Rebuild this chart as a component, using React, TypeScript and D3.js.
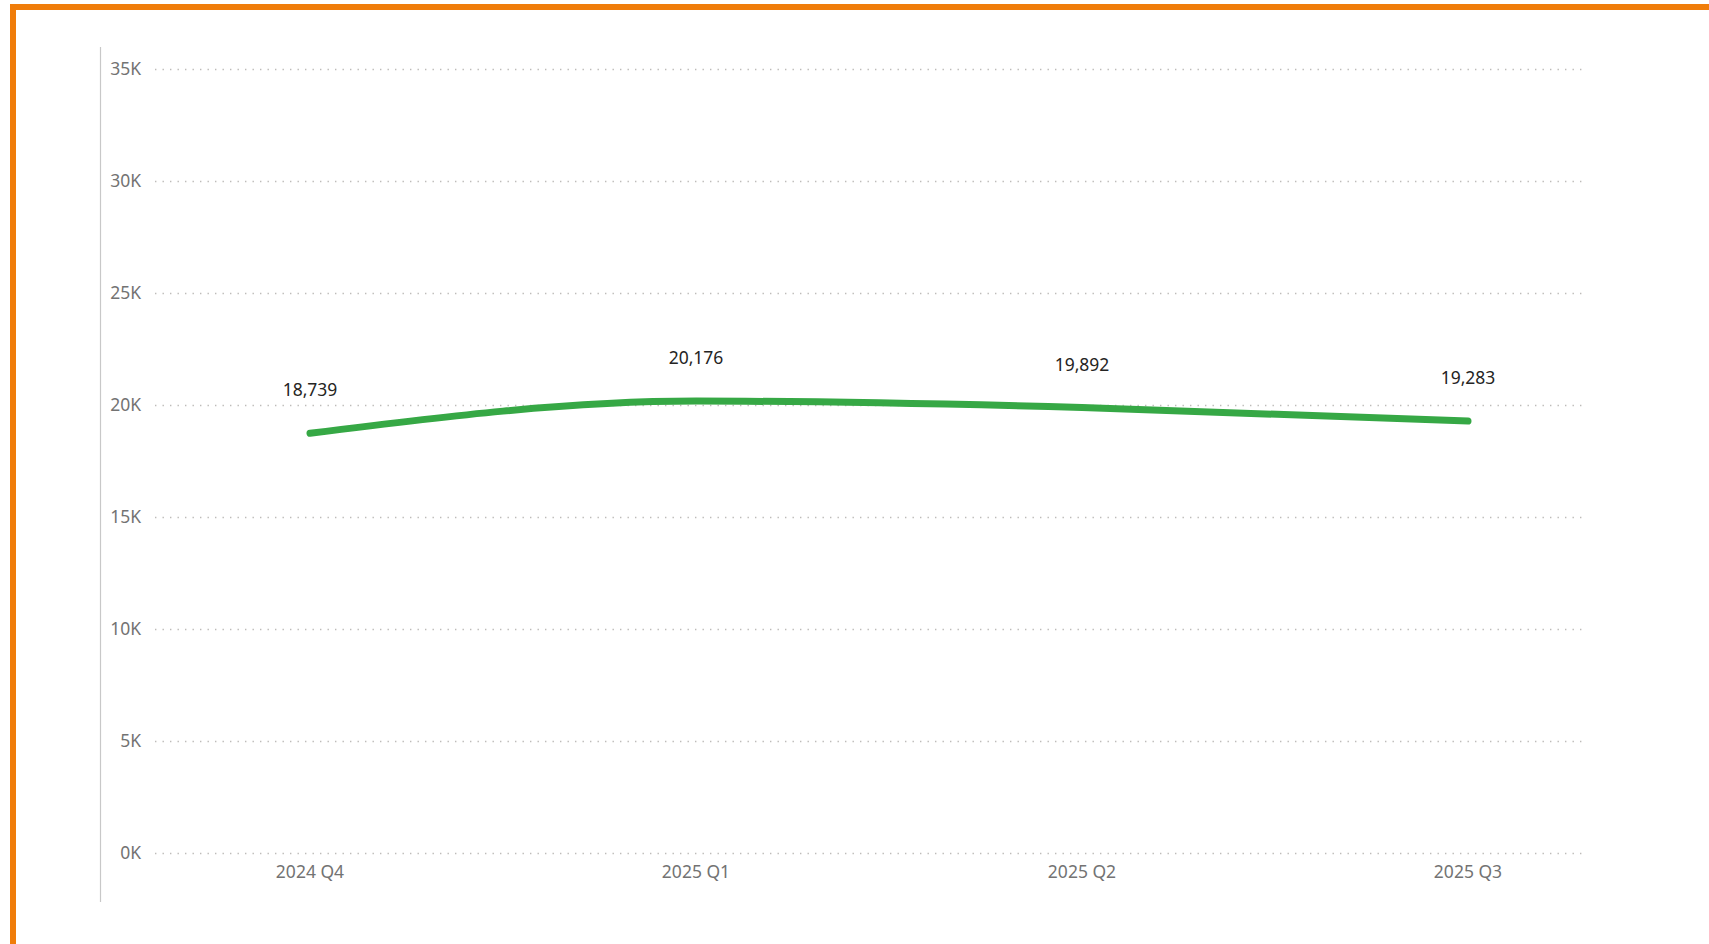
import { useEffect, useRef } from "react";
import * as d3 from "d3";

const quarters = ["2024 Q4", "2025 Q1", "2025 Q2", "2025 Q3"];
const values = [18739, 20176, 19892, 19283];
const yTicks = [0, 5000, 10000, 15000, 20000, 25000, 30000, 35000];

export default function App() {
  const ref = useRef<HTMLDivElement>(null);

  useEffect(() => {
    const width = 1709;
    const height = 944;
    const font = "'Noto Sans', 'Open Sans', sans-serif";

    const svg = d3
      .select(ref.current)
      .append("svg")
      .attr("width", width)
      .attr("height", height)
      .style("position", "absolute")
      .style("left", "0px")
      .style("top", "0px")
      .style("background", "#fff");

    // orange frame
    svg
      .append("rect")
      .attr("x", 13)
      .attr("y", 7)
      .attr("width", width + 20)
      .attr("height", height + 20)
      .attr("fill", "none")
      .attr("stroke", "#F07D0A")
      .attr("stroke-width", 6);

    const x = d3.scalePoint().domain(quarters).range([310, 1468]);
    const y = d3.scaleLinear().domain([0, 35000]).range([853, 69]);

    // left axis rule
    svg
      .append("line")
      .attr("x1", 100.5)
      .attr("x2", 100.5)
      .attr("y1", 47)
      .attr("y2", 902)
      .attr("stroke", "#c8c8c8")
      .attr("stroke-width", 1.2);

    const grid = svg.append("g");
    grid
      .selectAll("line")
      .data(yTicks)
      .enter()
      .append("line")
      .attr("x1", 155)
      .attr("x2", 1582)
      .attr("y1", (d) => Math.round(y(d)) + 0.5)
      .attr("y2", (d) => Math.round(y(d)) + 0.5)
      .attr("stroke", "#bdbbb9")
      .attr("stroke-width", 1.4)
      .attr("stroke-dasharray", "1.4,6.1");

    svg
      .append("g")
      .selectAll("text")
      .data(yTicks)
      .enter()
      .append("text")
      .attr("x", 141)
      .attr("y", (d) => y(d))
      .attr("dy", "0.35em")
      .attr("text-anchor", "end")
      .attr("font-family", font)
      .attr("font-size", 17.5)
      .attr("fill", "#737373")
      .text((d) => `${d / 1000}K`);

    svg
      .append("g")
      .selectAll("text")
      .data(quarters)
      .enter()
      .append("text")
      .attr("x", (d) => x(d)!)
      .attr("y", 872)
      .attr("dy", "0.35em")
      .attr("text-anchor", "middle")
      .attr("font-family", font)
      .attr("font-size", 17.5)
      .attr("fill", "#737373")
      .text((d) => d);

    const line = d3
      .line<number>()
      .x((_, i) => x(quarters[i])!)
      .y((d) => y(d))
      .curve(d3.curveMonotoneX);

    svg
      .append("path")
      .datum(values)
      .attr("d", line)
      .attr("fill", "none")
      .attr("stroke", "#36A845")
      .attr("stroke-width", 7)
      .attr("stroke-linecap", "round");

    svg
      .append("g")
      .selectAll("text")
      .data(values)
      .enter()
      .append("text")
      .attr("x", (_, i) => x(quarters[i])!)
      .attr("y", (d) => y(d) - 43)
      .attr("dy", "0.35em")
      .attr("text-anchor", "middle")
      .attr("font-family", font)
      .attr("font-size", 17.5)
      .attr("fill", "#252423")
      .text((d) => d3.format(",")(d));

    return () => {
      d3.select(ref.current).selectAll("*").remove();
    };
  }, []);

  return <div ref={ref} />;
}
